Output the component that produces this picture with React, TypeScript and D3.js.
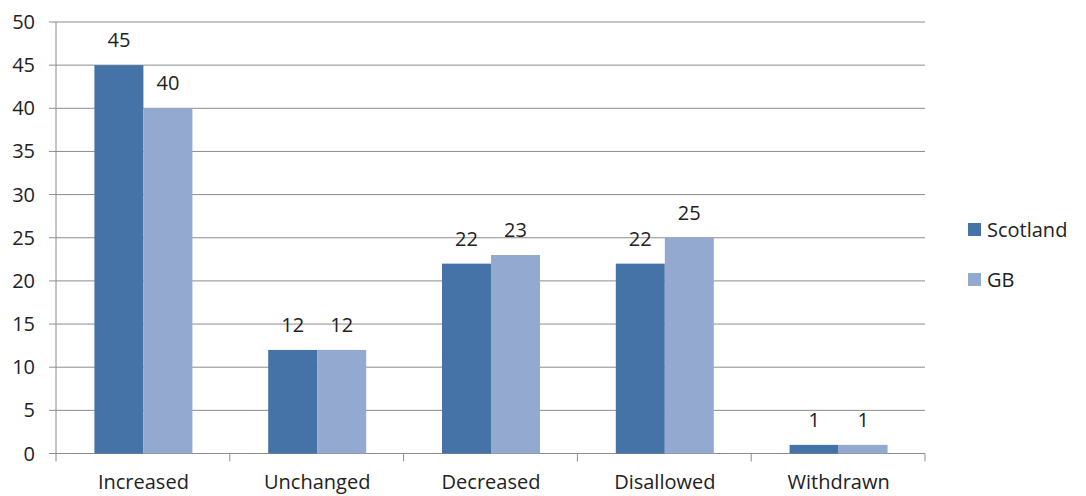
import React from "react";
import * as d3 from "d3";

const categories = ["Increased", "Unchanged", "Decreased", "Disallowed", "Withdrawn"];
const scotland = [45, 12, 22, 22, 1];
const gb = [40, 12, 23, 25, 1];
const seriesNames = ["Scotland", "GB"];
const seriesColors = ["#4572A7", "#94A9D0"];
const yTicks = [0, 5, 10, 15, 20, 25, 30, 35, 40, 45, 50];

const W = 1086;
const H = 496;
const left = 56;
const right = 925;
const top = 22;
const bottom = 453.5;
const font = "'Open Sans', 'Liberation Sans', sans-serif";
const fs = 20;

export default function App() {
  const x = d3.scaleBand<string>().domain(categories).range([left, right]).paddingInner(0).paddingOuter(0);
  const y = d3.scaleLinear().domain([0, 50]).range([bottom, top]);
  const barW = 49;
  const series = [scotland, gb];
  return (
    <svg width={W} height={H} style={{ position: "absolute", left: 0, top: 0, background: "#fff" }}>
      {yTicks.map((t) => (
        <g key={t}>
          <line x1={left - 7} x2={right} y1={y(t)} y2={y(t)} stroke="#8c8c8c" strokeWidth={1} />
          <text x={35} y={y(t) + 7} textAnchor="end" fontFamily={font} fontSize={fs} fill="#222">
            {t}
          </text>
        </g>
      ))}
      <line x1={left} x2={left} y1={top} y2={bottom} stroke="#8c8c8c" />
      {categories.map((c, i) => (
        <line key={"xt" + i} x1={x(c)! + x.bandwidth()} x2={x(c)! + x.bandwidth()} y1={bottom} y2={bottom + 8} stroke="#8c8c8c" />
      ))}
      <line x1={left} x2={left} y1={bottom} y2={bottom + 8} stroke="#8c8c8c" />
      {categories.map((c, i) => {
        const cx = x(c)! + x.bandwidth() / 2 + 0.5;
        return (
          <g key={c}>
            {series.map((s, si) => {
              const bx = cx - barW + si * barW;
              return (
                <g key={si}>
                  <rect x={bx} y={y(s[i])} width={barW} height={y(0) - y(s[i])} fill={seriesColors[si]} />
                  <text x={bx + barW / 2} y={y(s[i]) - 18} textAnchor="middle" fontFamily={font} fontSize={fs} fill="#222">
                    {s[i]}
                  </text>
                </g>
              );
            })}
            <text x={cx} y={489} textAnchor="middle" fontFamily={font} fontSize={fs} fill="#222">
              {c}
            </text>
          </g>
        );
      })}
      {seriesNames.map((n, i) => (
        <g key={n}>
          <rect x={968} y={223 + i * 50} width={13} height={13} fill={seriesColors[i]} />
          <text x={987} y={237 + i * 50} fontFamily={font} fontSize={fs} fill="#222">
            {n}
          </text>
        </g>
      ))}
    </svg>
  );
}
